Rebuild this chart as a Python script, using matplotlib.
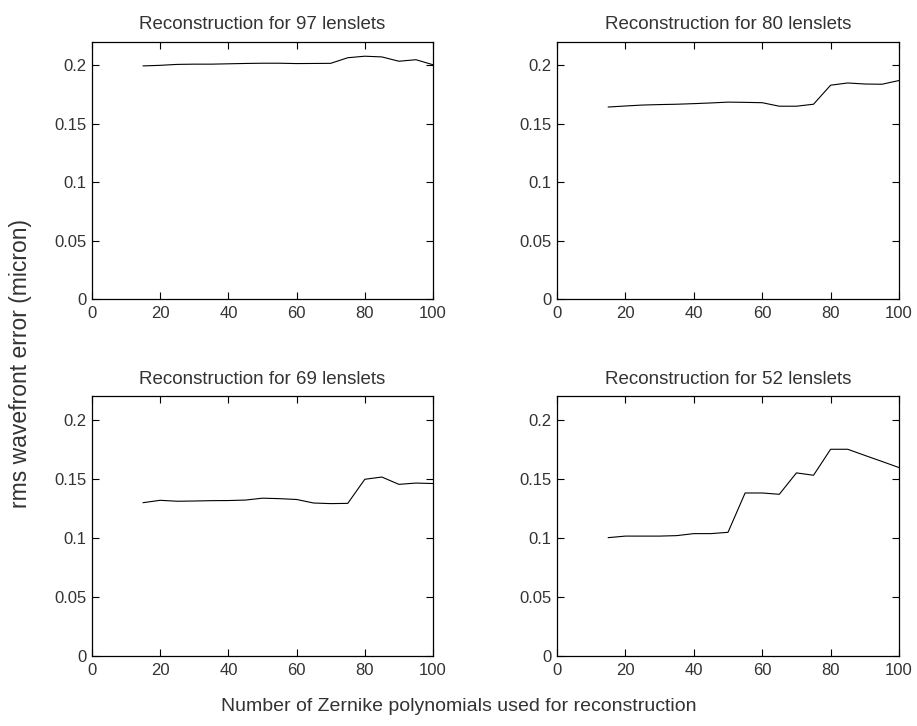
import matplotlib
matplotlib.use("Agg")
import matplotlib.pyplot as plt

plt.rcParams['font.family'] = ['Liberation Sans', 'DejaVu Sans']

n_zernike = [15, 20, 25, 30, 35, 40, 45, 50, 55, 60, 65, 70, 75, 80, 85, 90, 95, 100]

rms_97 = [0.1995, 0.2000, 0.2008, 0.2010, 0.2010, 0.2013, 0.2016, 0.2018, 0.2018,
          0.2015, 0.2016, 0.2017, 0.2065, 0.2078, 0.2072, 0.2035, 0.2048, 0.2005]
rms_80 = [0.1643, 0.1652, 0.1660, 0.1664, 0.1667, 0.1672, 0.1678, 0.1685, 0.1683,
          0.1680, 0.1650, 0.1650, 0.1667, 0.1830, 0.1849, 0.1840, 0.1838, 0.1870]
rms_69 = [0.1298, 0.1318, 0.1310, 0.1312, 0.1315, 0.1316, 0.1320, 0.1336, 0.1332,
          0.1325, 0.1295, 0.1290, 0.1292, 0.1496, 0.1515, 0.1453, 0.1464, 0.1460]
rms_52 = [0.1002, 0.1015, 0.1015, 0.1015, 0.1019, 0.1036, 0.1036, 0.1047, 0.1380,
          0.1380, 0.1369, 0.1550, 0.1530, 0.1750, 0.1750, 0.1698, 0.1647, 0.1595]

lenslets = [97, 80, 69, 52]
series = [rms_97, rms_80, rms_69, rms_52]

xticks = [0, 20, 40, 60, 80, 100]
yticks = [0, 0.05, 0.1, 0.15, 0.2]
ytick_labels = ['0', '0.05', '0.1', '0.15', '0.2']

text_col = '#333333'

fig = plt.figure(figsize=(9.17, 7.26), dpi=100)

# axes rectangles in figure fractions: [left, bottom, width, height]
boxes = [
    [0.1003, 0.5882, 0.3719, 0.3540],
    [0.6074, 0.5882, 0.3730, 0.3540],
    [0.1003, 0.0964, 0.3719, 0.3580],
    [0.6074, 0.0964, 0.3730, 0.3580],
]

for box, n, y in zip(boxes, lenslets, series):
    ax = fig.add_axes(box)
    ax.plot(n_zernike, y, color='black', linewidth=0.8)
    ax.set_xlim(0, 100)
    ax.set_ylim(0, 0.22)
    ax.set_xticks(xticks)
    ax.set_yticks(yticks)
    ax.set_yticklabels(ytick_labels)
    ax.tick_params(direction='in', top=True, right=True, length=5, width=0.8,
                   labelsize=12, labelcolor=text_col)
    ax.tick_params(axis='x', pad=5)
    ax.tick_params(axis='y', pad=4)
    for sp in ax.spines.values():
        sp.set_linewidth(0.9)
    ax.set_title('Reconstruction for %d lenslets' % n, fontsize=13.5,
                 color=text_col, pad=9)

fig.text(0.022, 0.5, 'rms wavefront error (micron)', rotation=90,
         ha='center', va='center', fontsize=16.5, color=text_col)
fig.text(0.5, 0.027, 'Number of Zernike polynomials used for reconstruction',
         ha='center', va='center', fontsize=14, color=text_col)

fig.savefig('out.png', dpi=100)
